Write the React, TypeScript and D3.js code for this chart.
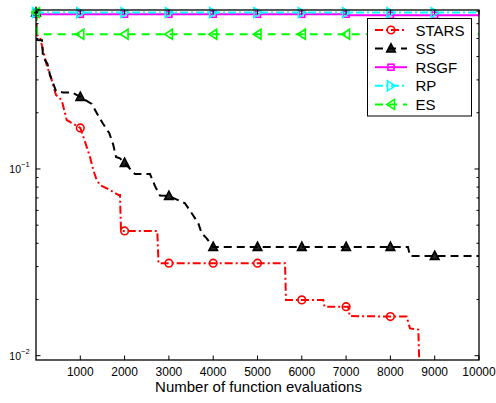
import React from "react";
import * as d3 from "d3";

// ---- data ----
const xTickValues = [1000, 2000, 3000, 4000, 5000, 6000, 7000, 8000, 9000, 10000];
const yMajorTicks = [0.01, 0.1];
const yMajorExponents = ["−2", "−1"];
const yMinorTicks = [0.02, 0.03, 0.04, 0.05, 0.06, 0.07, 0.08, 0.09, 0.2, 0.3, 0.4, 0.5, 0.6, 0.7];

const starsX = [0, 23, 90, 158, 242, 354, 451, 580, 693, 1000, 1106, 1219, 1293, 1370, 1445, 1670, 1858, 1896, 1919, 2000, 2738, 2765, 3000, 4000, 5000, 5621, 5643, 6000, 6485, 6512, 7000, 7050, 7080, 8000, 8367, 8442, 8630, 8684];
const starsY = [0.688, 0.522, 0.509, 0.434, 0.36, 0.3, 0.249, 0.234, 0.183, 0.166, 0.14, 0.116, 0.0988, 0.0873, 0.0821, 0.0772, 0.0726, 0.0726, 0.0466, 0.0466, 0.0466, 0.0313, 0.0313, 0.0313, 0.0313, 0.0313, 0.0199, 0.0199, 0.0199, 0.0183, 0.0183, 0.0183, 0.0163, 0.0162, 0.0162, 0.014, 0.0138, 0.005];

const ssX = [0, 23, 135, 158, 260, 316, 384, 451, 609, 812, 1000, 1257, 1384, 1506, 1655, 1745, 1806, 1896, 2000, 2235, 2573, 2686, 2799, 3000, 3363, 3515, 3664, 3740, 3853, 4000, 5000, 6000, 7000, 8000, 8397, 8442, 9000, 10000];
const ssY = [0.688, 0.491, 0.49, 0.398, 0.365, 0.319, 0.289, 0.262, 0.257, 0.257, 0.243, 0.223, 0.197, 0.1757, 0.1553, 0.1345, 0.116, 0.114, 0.1077, 0.094, 0.094, 0.0811, 0.0721, 0.0717, 0.0655, 0.0579, 0.0512, 0.0452, 0.0425, 0.0382, 0.0382, 0.0382, 0.0382, 0.0382, 0.0382, 0.0342, 0.0342, 0.0342];

const rsgfX = [0, 1000, 2000, 3000, 4000, 5000, 6000, 7000, 7040, 8000, 9000, 10000];
const rsgfY = [0.674, 0.674, 0.674, 0.674, 0.674, 0.674, 0.674, 0.674, 0.666, 0.666, 0.666, 0.666];

const rpX = [0, 1000, 2000, 3000, 4000, 5000, 6000, 7000, 8000, 9000, 10000];
const rpY = [0.688, 0.688, 0.688, 0.688, 0.688, 0.688, 0.688, 0.688, 0.688, 0.688, 0.688];

const esX = [0, 30, 1000, 2000, 3000, 4000, 5000, 6000, 7000, 8000, 9000, 10000];
const esY = [0.688, 0.527, 0.527, 0.527, 0.527, 0.527, 0.527, 0.527, 0.527, 0.527, 0.527, 0.527];

const seriesNames = ["STARS", "SS", "RSGF", "RP", "ES"];
const seriesColors = ["#ff0000", "#000000", "#ff00ff", "#00ffff", "#00ff00"];
const seriesDash = ["8,3,2,3", "8,5", "none", "8,3,2,3", "8,6"];
const seriesMarker = ["circle", "up", "square", "right", "left"];
const seriesXs = [starsX, ssX, rsgfX, rpX, esX];
const seriesYs = [starsY, ssY, rsgfY, rpY, esY];

const W = 496;
const H = 403;
const L = 36, R = 479, T = 10, B = 360;
const FONT = "'Liberation Sans', Arial, Helvetica, sans-serif";

function Marker({ kind, cx, cy, color }: { kind: string; cx: number; cy: number; color: string }) {
  const sw = 1.6;
  if (kind === "circle") return <circle cx={cx} cy={cy} r={3.8} fill="none" stroke={color} strokeWidth={sw} />;
  if (kind === "square") return <rect x={cx - 3} y={cy - 3} width={6} height={6} fill="none" stroke={color} strokeWidth={sw} />;
  let pts: number[][] = [];
  if (kind === "up") pts = [[0, -4.8], [4.3, 3.4], [-4.3, 3.4]];
  if (kind === "right") pts = [[-3.5, -5], [4.3, 0], [-3.5, 5]];
  if (kind === "left") pts = [[3.5, -5], [-4.3, 0], [3.5, 5]];
  const fill = kind === "up" ? color : "none";
  return (
    <polygon
      points={pts.map((p) => `${cx + p[0]},${cy + p[1]}`).join(" ")}
      fill={fill}
      fillOpacity={kind === "up" ? 0.85 : 1}
      stroke={color}
      strokeWidth={sw}
      strokeLinejoin="miter"
    />
  );
}

export default function App() {
  const x = d3.scaleLinear().domain([0, 10000]).range([L, R]);
  const y = d3.scaleLog().domain([0.00948, 0.7105]).range([B, T]);
  const line = d3
    .line<[number, number]>()
    .x((d) => x(d[0]))
    .y((d) => y(d[1]));

  const legendX0 = 367.5, legendY0 = 18.5, legendW = 104, legendH = 97.5;
  const rowY = (i: number) => 30 + i * 18.6;

  return (
    <svg
      width={W}
      height={H}
      style={{ position: "absolute", left: 0, top: 0, background: "#fff" }}
      fontFamily={FONT}
    >
      <defs>
        <clipPath id="plotclip">
          <rect x={L} y={T} width={R - L} height={B - T} />
        </clipPath>
      </defs>
      <rect x={0} y={0} width={W} height={H} fill="#fff" />

      {/* lines */}
      <g clipPath="url(#plotclip)">
        {seriesNames.map((n, i) => {
          const pts = seriesXs[i].map((v, j) => [v, seriesYs[i][j]] as [number, number]);
          return (
            <path
              key={n}
              d={line(pts) || ""}
              fill="none"
              stroke={seriesColors[i]}
              strokeWidth={2}
              strokeDasharray={seriesDash[i]}
            />
          );
        })}
      </g>
      {/* markers */}
      {seriesNames.map((n, i) => (
        <g key={n + "m"}>
          {seriesXs[i].map((v, j) => {
            const val = seriesYs[i][j];
            if (v % 1000 !== 0 || v >= 10000 || val < 0.00948) return null;
            return <Marker key={j} kind={seriesMarker[i]} cx={x(v)} cy={y(val)} color={seriesColors[i]} />;
          })}
        </g>
      ))}

      {/* axes box */}
      <rect x={L} y={T} width={R - L} height={B - T} fill="none" stroke="#000" strokeWidth={1.3} />

      {/* x ticks */}
      {xTickValues.map((t) => (
        <g key={"xt" + t}>
          <line x1={x(t)} x2={x(t)} y1={B} y2={B - 4.5} stroke="#000" strokeWidth={1} />
          <line x1={x(t)} x2={x(t)} y1={T} y2={T + 4.5} stroke="#000" strokeWidth={1} />
          <text x={x(t)} y={376} textAnchor="middle" fontSize={12}>
            {t}
          </text>
        </g>
      ))}

      {/* y ticks */}
      {yMajorTicks.map((t, i) => (
        <g key={"yt" + t}>
          <line x1={L} x2={L + 4.5} y1={y(t)} y2={y(t)} stroke="#000" strokeWidth={1} />
          <line x1={R} x2={R - 4.5} y1={y(t)} y2={y(t)} stroke="#000" strokeWidth={1} />
          <text x={21} y={y(t) + 4} textAnchor="end" fontSize={10.5}>
            10
          </text>
          <text x={21} y={y(t) - 1.5} textAnchor="start" fontSize={7.5}>
            {yMajorExponents[i]}
          </text>
        </g>
      ))}
      {yMinorTicks.map((t) => (
        <g key={"ym" + t}>
          <line x1={L} x2={L + 2.5} y1={y(t)} y2={y(t)} stroke="#000" strokeWidth={1} />
          <line x1={R} x2={R - 2.5} y1={y(t)} y2={y(t)} stroke="#000" strokeWidth={1} />
        </g>
      ))}

      {/* x label */}
      <text x={(L + R) / 2 + 1} y={392} textAnchor="middle" fontSize={15}>
        Number of function evaluations
      </text>

      {/* legend */}
      <rect x={legendX0} y={legendY0} width={legendW} height={legendH} fill="#fff" stroke="#000" strokeWidth={1} />
      {seriesNames.map((n, i) => (
        <g key={n + "l"}>
          <line
            x1={375}
            x2={407}
            y1={rowY(i)}
            y2={rowY(i)}
            stroke={seriesColors[i]}
            strokeWidth={2}
            strokeDasharray={seriesDash[i] === "none" ? undefined : seriesDash[i]}
          />
          <Marker kind={seriesMarker[i]} cx={391} cy={rowY(i)} color={seriesColors[i]} />
          <text x={415.5} y={rowY(i) + 5.5} fontSize={15}>
            {n}
          </text>
        </g>
      ))}
    </svg>
  );
}
